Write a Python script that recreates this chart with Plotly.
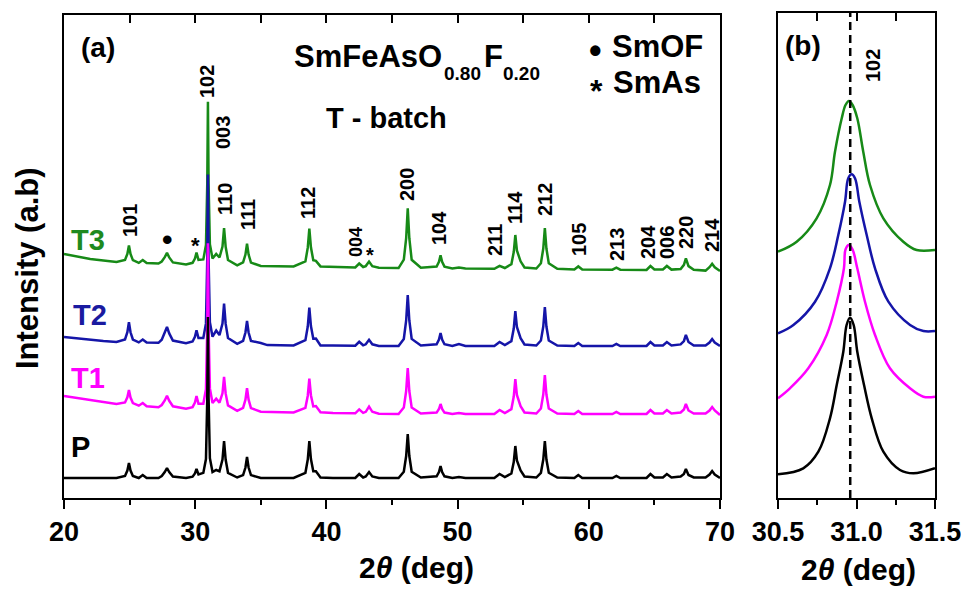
import plotly.graph_objects as go

# ---------------- data: panel (a) full XRD patterns ----------------
two_theta = [
    20.0, 21.0, 22.0, 23.0, 24.0, 24.65, 24.83, 24.95, 25.07, 25.25,
    25.7, 26.0, 26.3, 27.2, 27.45, 27.68, 27.85, 28.02, 28.3, 29.3,
    29.8, 29.98, 30.1, 30.25, 30.62, 30.82, 30.92, 30.97, 31.02, 31.12,
    31.32, 31.6, 31.85, 32.08, 32.2, 32.32, 32.5, 33.2, 33.65, 33.83,
    33.95, 34.07, 34.25, 35.0, 35.5, 37.5, 38.4, 38.58, 38.7, 38.82,
    39.0, 39.2, 39.55, 40.5, 42.2, 42.5, 42.8, 43.0, 43.25, 43.5,
    44.0, 45.5, 45.9, 46.08, 46.2, 46.32, 46.5, 47.2, 48.4, 48.58,
    48.7, 48.82, 49.0, 49.6, 50.1, 50.6, 52.8, 53.2, 53.6, 54.1,
    54.28, 54.4, 54.52, 54.8, 55.1, 56.0, 56.35, 56.53, 56.65, 56.77,
    56.95, 57.6, 58.9, 59.2, 59.5, 61.8, 62.1, 62.4, 64.4, 64.7,
    65.0, 65.65, 65.95, 66.3, 67.0, 67.25, 67.4, 67.6, 68.0, 68.9,
    69.2, 69.4, 69.6, 70.0,
]

P = [
    0, 0, 0, 0, 0, 2.1, 7.5, 15, 7.5, 2.1,
    0, 3, 0, 0, 2, 6, 10, 6, 1.5, 0,
    1.3, 4.5, 9, 3.6, 5.1, 19, 80, 161, 80, 19.8,
    6, 8, 6.7, 18.5, 37, 18.5, 5.2, 0.5, 2.9, 10.5,
    21, 10.5, 2.9, 0, 0, 0, 5.2, 18.5, 37, 19,
    6.7, 6.8, 0.5, 0, 0, 4, 0.5, 1.5, 6, 1.5,
    0, 0, 6.2, 22, 44, 22, 6.2, 0.5, 1.7, 6,
    12, 6, 1.7, 0, 1, 0, 0, 4, 1, 4.5,
    16, 32, 17.5, 7.6, 1.5, 0.5, 5.2, 18.5, 37, 18.5,
    5.2, 0.5, 0, 3, 0, 0, 2, 0, 0, 4,
    0.5, 0.5, 4, 0.5, 1.5, 4, 9, 3, 0.5, 0.5,
    3.5, 7, 3.5, 0,
]

T1 = [
    18, 16, 14, 12, 10, 11.5, 16.7, 24, 16.4, 10.9,
    8.3, 11, 7.7, 6.8, 9, 13.5, 18.2, 13.2, 7.7, 5.3,
    6.9, 11.5, 18, 10.2, 10.2, 24.7, 87.7, 170.7, 87.6, 25.6,
    11, 15.4, 11.4, 20.7, 37.2, 20.6, 8.6, 3.1, 6.1, 14.3,
    25.8, 14.3, 5.9, 2.3, 2.2, 1.6, 6.2, 18.3, 35.3, 18.8,
    7.6, 8, 1.8, 1, 0.7, 4.6, 1.1, 2.2, 7.4, 2.2,
    0.2, 0, 6.4, 23, 46, 23, 6.4, 0.5, 1.4, 5,
    10, 5, 1.4, 0, 1, 0, 0, 4, 1, 4.9,
    17.5, 35, 19, 7.8, 1.5, 0.5, 5.5, 19.5, 39, 19.5,
    5.5, 0.5, 0, 3, 0, 0, 2, 0, 0, 4,
    0.5, 0.5, 4, 0.5, 1.5, 4.5, 10, 3.5, 0.5, 0.5,
    3.5, 7, 3.5, -1,
]

T2 = [
    9, 7.5, 6, 5, 4, 6.6, 13.8, 23.8, 13.7, 6.5,
    3.6, 6.5, 3.4, 3.2, 6.3, 12.7, 19, 12.6, 5.4, 2.8,
    4.5, 9.2, 15.7, 7.9, 8, 22.6, 87.1, 171.6, 87.1, 23.7,
    9.3, 15.5, 10.9, 22.4, 42.4, 22.3, 7.9, 2.1, 5.2, 13.5,
    25, 13.5, 5.1, 3, 0.9, 0.6, 5.8, 19.5, 38.5, 20,
    7.3, 7.4, 0.5, 0.4, 0.3, 4.2, 0.7, 1.7, 6.2, 1.7,
    0.1, 0, 7.1, 25.5, 51, 25.5, 7.1, 0.5, 1.8, 6.5,
    13, 6.5, 1.8, 0, 2, 0, 0, 4, 1, 4.9,
    17.5, 35, 19, 7.8, 1.5, 0.5, 5.5, 19.5, 39, 19.5,
    5.5, 0.5, 0, 3, 0, 0, 2, 0, 0, 4,
    0.5, 0.5, 4, 0.5, 1.6, 5, 11, 4, 0.5, 0.5,
    3.5, 7, 3.5, 0,
]

T3 = [
    15, 12.5, 10, 8.5, 7, 9.1, 15.1, 23.6, 15, 8.8,
    6.1, 9, 5.9, 5.4, 7.5, 11.8, 16.1, 11.6, 6.6, 4.6,
    6.2, 10.4, 16.4, 9.2, 9.6, 23.9, 85.7, 167.2, 85.7, 24.8,
    10.5, 15, 11.5, 22.4, 40.9, 22.4, 9, 3.6, 6.6, 14.4,
    25.4, 14.4, 6.4, 3, 2.9, 2.5, 7.6, 21.3, 40.3, 21.7,
    8.7, 8.1, 2.6, 2, 1.6, 5.5, 2, 2.9, 7.4, 2.8,
    1.2, 0.9, 9.3, 30.8, 60.8, 30.8, 9.2, 1.3, 2.4, 7.1,
    13.6, 7.1, 2.4, 0.5, 1.5, 0.4, 0.2, 3.2, 1, 4.8,
    17, 34, 18.5, 7.7, 1.5, 0.5, 5.7, 20.5, 41, 20.5,
    5.7, 0.3, -0.4, 2.6, -0.5, -0.7, 1.3, -0.7, -1, 3,
    -0.5, -0.5, 3, -0.6, 0, 4.2, 10.7, 2.9, -0.8, -1.6,
    1.8, 5.2, 1.7, -2,
]

# vertical stacking offsets of the patterns (a.u.)
offsets = {"P": 20, "T1": 84, "T2": 152, "T3": 229}

# ---------------- data: panel (b) zoom on the (102) reflection ----------------
b_T3_x = [30.50, 30.619, 30.746, 30.831, 30.863, 30.906, 30.93, 30.952, 30.975, 31.005, 31.043, 31.086, 31.171, 31.298, 31.383, 31.5]
b_T3_y = [246.3, 256.3, 279.7, 313, 346.3, 379.7, 393, 397, 393, 379.7, 346.3, 313, 279.7, 256.3, 248, 248]
b_T2_x = [30.50, 30.598, 30.736, 30.831, 30.884, 30.927, 30.947, 30.969, 30.991, 31.018, 31.065, 31.118, 31.203, 31.341, 31.426, 31.5]
b_T2_y = [164.7, 173, 196.3, 229.7, 263, 296.3, 319.5, 323.7, 319.5, 296.3, 263, 229.7, 196.3, 173, 167, 167]
b_T1_x = [30.50, 30.576, 30.693, 30.810, 30.874, 30.920, 30.93, 30.952, 30.975, 31.005, 31.054, 31.118, 31.213, 31.341, 31.426, 31.5]
b_T1_y = [99.7, 109.7, 129.7, 163, 196.3, 229.7, 248.5, 253, 248.5, 229.7, 196.3, 163, 129.7, 109.7, 101.3, 101.3]
b_P_x = [30.50, 30.661, 30.757, 30.831, 30.874, 30.916, 30.937, 30.959, 30.982, 31.005, 31.048, 31.097, 31.171, 31.277, 31.362, 31.5]
b_P_y = [23.7, 29.7, 46.3, 79.7, 113, 146.3, 173, 180.3, 173, 146.3, 113, 79.7, 46.3, 28, 24.7, 29.7]
peak_102_position = 30.96

# tick labels
a_ticks = [20, 30, 40, 50, 60, 70]
a_minor = [25, 35, 45, 55, 65]
b_ticks = [30.5, 31.0, 31.5]
b_ticktext = ["30.5", "31.0", "31.5"]
b_minor = [30.75, 31.25]

series_names = ["T3", "T2", "T1", "P"]
hkl_labels = ["101", "102", "003", "110", "111", "112", "004", "200", "104",
              "211", "114", "212", "105", "213", "204", "006", "220", "214"]

# ---------------- styling / layout ----------------
# the page body has an 8 px margin, so the figure is drawn 8 px in from the
# window corner; size it to fill the rest of the 969x589 window exactly
OFF = 8
W, H = 969 - OFF, 589 - OFF
FONT = "Liberation Sans, Arial, sans-serif"
colors = {"T3": "#178a17", "T2": "#1515a8", "T1": "#ff00ff", "P": "#000000"}
label_colors = {"T3": "#1e8a1e", "T2": "#1a1aa0", "T1": "#ff00ff", "P": "#000000"}


def fx(x):
    return (x - OFF) / W


def fy(y):
    return 1 - (y - OFF) / H


data_a = {"P": P, "T1": T1, "T2": T2, "T3": T3}
data_b = {"T3": (b_T3_x, b_T3_y), "T2": (b_T2_x, b_T2_y),
          "T1": (b_T1_x, b_T1_y), "P": (b_P_x, b_P_y)}

fig = go.Figure()
for name in series_names:
    fig.add_trace(go.Scatter(
        x=two_theta, y=[offsets[name] + v for v in data_a[name]],
        mode="lines", line=dict(color=colors[name], width=2.5),
        xaxis="x", yaxis="y", showlegend=False, hoverinfo="skip"))
for name in series_names:
    bx, by = data_b[name]
    fig.add_trace(go.Scatter(
        x=bx, y=by, mode="lines",
        line=dict(color=colors[name], width=2.5, shape="spline", smoothing=1.0),
        xaxis="x2", yaxis="y2", showlegend=False, hoverinfo="skip"))
# dummy traces so that the top tick axes are drawn
fig.add_trace(go.Scatter(x=[None], y=[None], xaxis="x3", yaxis="y", showlegend=False))
fig.add_trace(go.Scatter(x=[None], y=[None], xaxis="x4", yaxis="y2", showlegend=False))

tickfont = dict(family=FONT, size=27, color="black", weight="bold")
axis_common = dict(showgrid=False, zeroline=False, showline=True, linecolor="black",
                   linewidth=2, tickcolor="black", tickwidth=2, automargin=False)

pa_x = [fx(64), fx(720)]
pb_x = [fx(778), fx(935)]
pa_y = [fy(498), fy(15)]
pb_y = [fy(498), fy(13)]

fig.update_layout(
    width=W, height=H, autosize=False,
    margin=dict(l=0, r=0, t=0, b=0, pad=0, autoexpand=False),
    paper_bgcolor="white", plot_bgcolor="white",
    xaxis=dict(domain=pa_x, range=[20, 70], anchor="y", tickmode="array",
               tickvals=a_ticks, ticktext=[str(t) for t in a_ticks],
               ticks="outside", ticklen=9, tickfont=tickfont,
               minor=dict(tickmode="array", tickvals=a_minor, ticks="outside",
                          ticklen=5, tickwidth=2, tickcolor="black"),
               **axis_common),
    xaxis3=dict(overlaying="x", side="top", range=[20, 70], anchor="y",
                tickmode="array", tickvals=a_ticks + a_minor, ticks="inside",
                ticklen=8, showticklabels=False, **axis_common),
    yaxis=dict(domain=pa_y, range=[0, 483], anchor="x", showticklabels=False,
               ticks="", mirror=True, **axis_common),
    xaxis2=dict(domain=pb_x, range=[30.5, 31.5], anchor="y2", tickmode="array",
                tickvals=b_ticks, ticktext=b_ticktext, ticks="outside",
                ticklen=9, tickfont=tickfont,
                minor=dict(tickmode="array", tickvals=b_minor, ticks="outside",
                           ticklen=5, tickwidth=2, tickcolor="black"),
                **axis_common),
    xaxis4=dict(overlaying="x2", side="top", range=[30.5, 31.5], anchor="y2",
                tickmode="array", tickvals=b_ticks + b_minor, ticks="inside",
                ticklen=8, showticklabels=False, **axis_common),
    yaxis2=dict(domain=pb_y, range=[0, 485], anchor="x2", showticklabels=False,
                ticks="", mirror=True, **axis_common),
)

# dashed line marking the (102) position in panel (b)
fig.add_shape(type="line", xref="x2", yref="y2 domain", x0=peak_102_position,
              x1=peak_102_position, y0=0, y1=1,
              line=dict(color="black", width=2.5, dash="8px,5px"))

annotations = []


def ann(text, x, y, size, color="black", angle=0, xanchor="center", yanchor="middle"):
    annotations.append(dict(text=text, x=fx(x), y=fy(y), xref="paper", yref="paper",
                            showarrow=False, textangle=angle, xanchor=xanchor,
                            yanchor=yanchor, borderpad=0,
                            font=dict(family=FONT, size=size, color=color)))


# axis titles
ann("<b>Intensity (a.b)</b>", 27, 268, 31, angle=-90)
ann("<b>2<i>θ</i> (deg)</b>", 416, 567, 30)
ann("<b>2<i>θ</i> (deg)</b>", 858, 569, 30)

# panel labels
ann("<b>(a)</b>", 98, 47.6, 28)
ann("<b>(b)</b>", 803, 45, 28)

# compound formula with subscripts, composed piece by piece
ann("<b>SmFeAsO</b>", 293, 56.3, 31, xanchor="left")
ann("<b>0.80</b>", 443, 73.4, 19, xanchor="left")
ann("<b>F</b>", 483, 56.3, 31, xanchor="left")
ann("<b>0.20</b>", 502, 73.4, 19, xanchor="left")
ann("<b>T - batch</b>", 386, 118, 29)

# impurity legend
ann("<b>•</b>", 595, 50, 36)
ann("<b>SmOF</b>", 611, 46.3, 31, xanchor="left")
ann("<b>*</b>", 596, 90.5, 32)
ann("<b>SmAs</b>", 612, 82.3, 31, xanchor="left")

# series labels
series_label_pos = {"T3": (88, 240), "T2": (90, 315), "T1": (88, 378), "P": (80, 447)}
for name in series_names:
    x, y = series_label_pos[name]
    ann(f"<b>{name}</b>", x, y, 29, color=label_colors[name])

# Miller-index labels
hkl_pos = [(130, 220), (207, 82), (223, 133), (225, 199), (248, 215), (308, 203),
           (356, 242), (407, 185), (439, 228), (495, 240), (515, 208), (545, 200),
           (579, 240), (617, 245), (648, 242), (667, 243), (686, 233), (712, 235)]
for lab, (x, y) in zip(hkl_labels, hkl_pos):
    ann(f"<b>{lab}</b>", x, y, 18 if lab == "004" else 20, angle=-90)

# impurity markers on the T3 pattern
ann("<b>•</b>", 167, 240, 30)
ann("<b>*</b>", 195, 245, 22)
ann("<b>*</b>", 370, 255, 20)

# (102) label in panel (b)
ann("<b>102</b>", 873, 66, 20, angle=-90)

fig.update_layout(annotations=annotations)
fig.write_html("out.html")
